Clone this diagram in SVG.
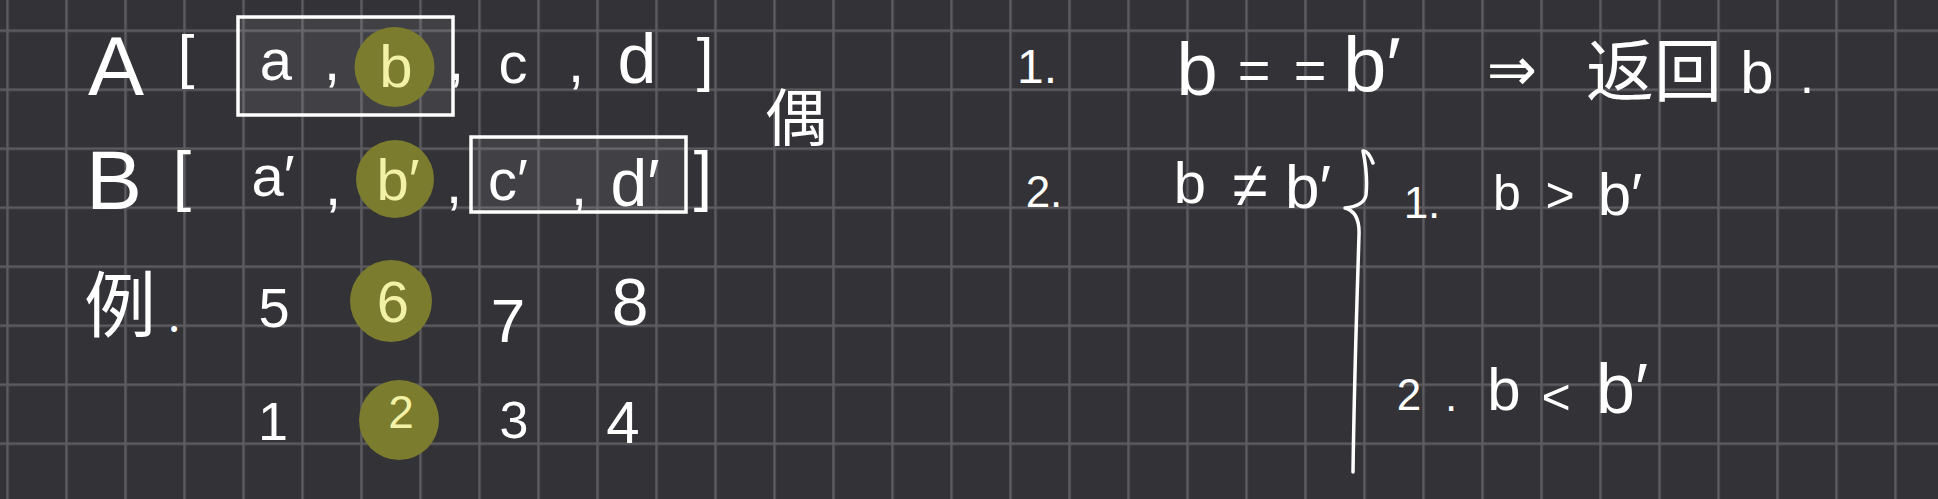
<svg xmlns="http://www.w3.org/2000/svg" width="1938" height="499" viewBox="0 0 1938 499">
<style>
.t{font-family:"Liberation Sans","DejaVu Sans",sans-serif;fill:#ffffff;text-anchor:middle}
.y{fill:#f3f1a6}
.cjk{font-family:"Noto Sans CJK SC","Noto Sans CJK JP",sans-serif;fill:#ffffff}
.hl{fill:#7b7c2e}
.box{fill:#ffffff;fill-opacity:0.07;stroke:#ffffff;stroke-width:3.5}
.ink{fill:none;stroke:#ffffff;stroke-width:3.5;stroke-linecap:round;stroke-linejoin:round}
</style>
<defs>
<pattern id="grid" x="6.25" y="29.45" width="59" height="59" patternUnits="userSpaceOnUse">
<path d="M1.25 0V59M0 1.25H59" stroke="#5c5b60" stroke-width="2.5" fill="none"/>
</pattern>
</defs>
<rect width="1938" height="499" fill="#333236"/>
<rect width="1938" height="499" fill="url(#grid)"/>

<g id="rowA">
<text class="t" x="116" y="95" font-size="84">A</text>
<text class="t" x="186" y="77" font-size="60">[</text>
<rect class="box" x="238" y="17" width="215" height="98"/>
<circle class="hl" cx="394.5" cy="67" r="40"/>
<text class="t" x="276" y="80" font-size="58">a</text>
<text class="t" x="332" y="80" font-size="58">,</text>
<text class="t y" x="396" y="87" font-size="60">b</text>
<text class="t" x="456" y="80" font-size="58">,</text>
<text class="t" x="513" y="83" font-size="58">c</text>
<text class="t" x="576" y="82" font-size="58">,</text>
<text class="t" x="637" y="83" font-size="70">d</text>
<text class="t" x="705" y="80" font-size="60">]</text>
</g>

<g id="rowB">
<text class="t" x="114" y="209" font-size="84">B</text>
<text class="t" x="182" y="198" font-size="66">[</text>
<text class="t" x="273" y="196" font-size="58">a′</text>
<text class="t" x="333" y="205" font-size="58">,</text>
<circle class="hl" cx="395" cy="179" r="39"/>
<text class="t y" x="398" y="200" font-size="58">b′</text>
<text class="t" x="454" y="203" font-size="58">,</text>
<rect class="box" x="471" y="137" width="215" height="75"/>
<text class="t" x="508" y="200" font-size="58">c′</text>
<text class="t" x="579" y="205" font-size="58">,</text>
<text class="t" x="635" y="206" font-size="66">d′</text>
<text class="t" x="703" y="198" font-size="66">]</text>
</g>

<g id="note-ou">
<text class="cjk" x="796" y="141" font-size="62" text-anchor="middle">偶</text>
</g>

<g id="example-row1">
<text class="cjk" x="84" y="331" font-size="72">例<tspan font-size="44" dx="12">.</tspan></text>
<text class="t" x="274" y="327" font-size="56">5</text>
<circle class="hl" cx="391" cy="301" r="41"/>
<text class="t y" x="393" y="322" font-size="58">6</text>
<text class="t" x="508" y="342" font-size="62">7</text>
<text class="t" x="630" y="325" font-size="66">8</text>
</g>

<g id="example-row2">
<text class="t" x="273" y="440" font-size="54">1</text>
<circle class="hl" cx="399" cy="420" r="40"/>
<text class="t y" x="401" y="428" font-size="46">2</text>
<text class="t" x="514" y="438" font-size="52">3</text>
<text class="t" x="623" y="443" font-size="60">4</text>
</g>

<g id="case1">
<text class="t" x="1037" y="83" font-size="48">1.</text>
<text class="t" x="1197" y="95" font-size="74">b</text>
<text class="t" x="1254" y="89" font-size="56">=</text>
<text class="t" x="1310" y="89" font-size="56">=</text>
<text class="t" x="1372" y="92" font-size="78">b′</text>
<text class="t" x="1512" y="90" font-size="60" style="font-family:'DejaVu Sans',sans-serif">⇒</text>
<text class="cjk" x="1586" y="96" font-size="68">返回</text>
<text class="t" x="1757" y="93" font-size="60">b</text>
<text class="t" x="1807" y="93" font-size="50">.</text>
</g>

<g id="case2">
<text class="t" x="1044" y="207" font-size="44">2.</text>
<text class="t" x="1190" y="203" font-size="58">b</text>
<text class="t" x="1250" y="207" font-size="64">≠</text>
<text class="t" x="1308" y="208" font-size="62">b′</text>
</g>

<g id="connectors">
<path class="ink" d="M1373 163 Q1368 150 1363 151 Q1368 175 1366 195 Q1364 206 1345 208 Q1360 212 1359 235 L1357 300 Q1354 400 1353 472"/>
</g>

<g id="case2-1">
<text class="t" x="1422" y="218" font-size="44">1.</text>
<text class="t" x="1507" y="210" font-size="50">b</text>
<text class="t" x="1560" y="212" font-size="50">&gt;</text>
<text class="t" x="1620" y="215" font-size="60">b′</text>
</g>

<g id="case2-2">
<text class="t" x="1409" y="410" font-size="44">2</text>
<text class="t" x="1451" y="411" font-size="44">.</text>
<text class="t" x="1504" y="410" font-size="60">b</text>
<text class="t" x="1556" y="414" font-size="50">&lt;</text>
<text class="t" x="1622" y="413" font-size="70">b′</text>
</g>
</svg>
